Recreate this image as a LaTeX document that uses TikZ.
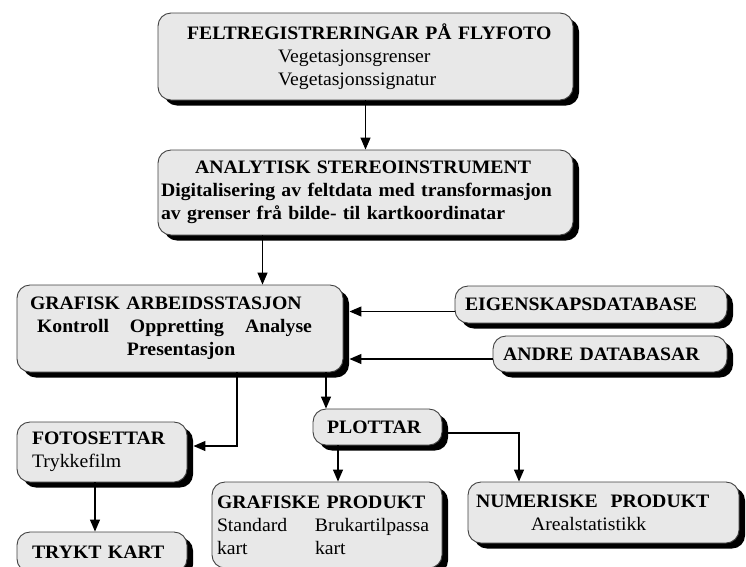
\documentclass[tikz,border=0pt]{standalone}
\usepackage{fontspec}
\setmainfont{Liberation Serif}[FakeStretch=1.04]
\usepackage{xcolor}
\usetikzlibrary{positioning, arrows.meta, shadows}
\definecolor{boksgraa}{RGB}{232,232,232}

\begin{document}
\begin{tikzpicture}[
    x=1pt, y=-1pt,
    panel/.style={rectangle, draw=black!75, line width=0.9pt, fill=boksgraa, rounded corners=13pt, inner xsep=0pt, inner ysep=0pt, align=left, font=\fontsize{19}{23}\selectfont, drop shadow={shadow xshift=6pt, shadow yshift=-5.5pt, fill=black, opacity=1}},
    arrow/.style={-{Triangle[length=12pt, width=10pt]}, line width=1.2pt}
]
\useasboundingbox (0,0) rectangle (746,566);
\clip (0,0) rectangle (746,566);

\node[panel, text width=415pt, minimum height=87pt] (felt) at (365.5,56.5)
  {\hspace*{29pt}\textbf{FELTREGISTRERINGAR PÅ FLYFOTO}\\
   \hspace*{120pt}Vegetasjonsgrenser\\
   \hspace*{120pt}Vegetasjonssignatur};
\node[panel, text width=415pt, minimum height=85pt] (analyt) at (365.5,192.5)
  {\hspace*{37pt}\textbf{ANALYTISK STEREOINSTRUMENT}\\
   \hspace*{3pt}\textbf{Digitalisering av feltdata med transformasjon}\\
   \hspace*{3pt}\textbf{av grenser frå bilde- til kartkoordinatar}};
\node[panel, text width=326pt, minimum height=87pt] (grafisk) at (180,328.5)
  {\hspace*{13pt}\textbf{GRAFISK ARBEIDSSTASJON}\\
   \hspace*{20pt}\textbf{\makebox[93pt][l]{Kontroll}\makebox[115pt][l]{Oppretting}Analyse}\\
   \hspace*{110pt}\textbf{Presentasjon}};
\node[panel, text width=272pt, minimum height=37pt] (eigen) at (591,304.5)
  {\hspace*{10pt}\textbf{EIGENSKAPSDATABASE}};
\node[panel, text width=234pt, minimum height=36pt] (andre) at (610,354)
  {\hspace*{10pt}\textbf{ANDRE DATABASAR}};
\node[panel, text width=129pt, minimum height=36pt] (plottar) at (377.5,427)
  {\hspace*{14pt}\textbf{PLOTTAR}};
\node[panel, text width=170pt, minimum height=60pt] (foto) at (102,452)
  {\hspace*{15pt}\textbf{FOTOSETTAR}\\
   \hspace*{15pt}Trykkefilm};
\node[panel, text width=170pt, minimum height=40pt] (trykt) at (102,552)
  {\hspace*{15pt}\textbf{TRYKT KART}};
\node[panel, text width=230pt, minimum height=86pt] (grafprod) at (327,525)
  {\hspace*{5pt}\textbf{GRAFISKE PRODUKT}\\
   \hspace*{5pt}\makebox[98pt][l]{Standard}Brukartilpassa\\
   \hspace*{5pt}\makebox[98pt][l]{kart}kart};
\node[panel, text width=271pt, minimum height=61pt] (numer) at (603.5,512.5)
  {\hspace*{8pt}\textbf{NUMERISKE~ PRODUKT}\\
   \hspace*{63pt}Arealstatistikk};

\draw[arrow] (felt) -- (analyt);
\draw[arrow] ([xshift=-103pt]analyt.south) -- ([xshift=-103pt]analyt.south |- grafisk.north);
\draw[arrow] ([yshift=-7pt]eigen.west) -- ([yshift=-7pt, xshift=6pt]eigen.west -| grafisk.east);
\draw[arrow] ([yshift=-5pt]andre.west) -- ([yshift=-5pt, xshift=6pt]andre.west -| grafisk.east);
\draw[arrow] ([xshift=-51.5pt]plottar.north |- grafisk.south) -- ([xshift=-51.5pt]plottar.north);
\draw[arrow] ([xshift=57pt]grafisk.south) |- ([yshift=6pt, xshift=6pt]foto.east);
\draw[arrow] ([xshift=-7pt]foto.south) -- ([xshift=-7pt]trykt.north);
\draw[arrow] ([xshift=-39.5pt]plottar.south) -- ([xshift=-39.5pt]plottar.south |- grafprod.north);
\draw[arrow] ([yshift=-6pt, xshift=6pt]plottar.east) -| ([xshift=-84.5pt]numer.north);
\end{tikzpicture}
\end{document}
